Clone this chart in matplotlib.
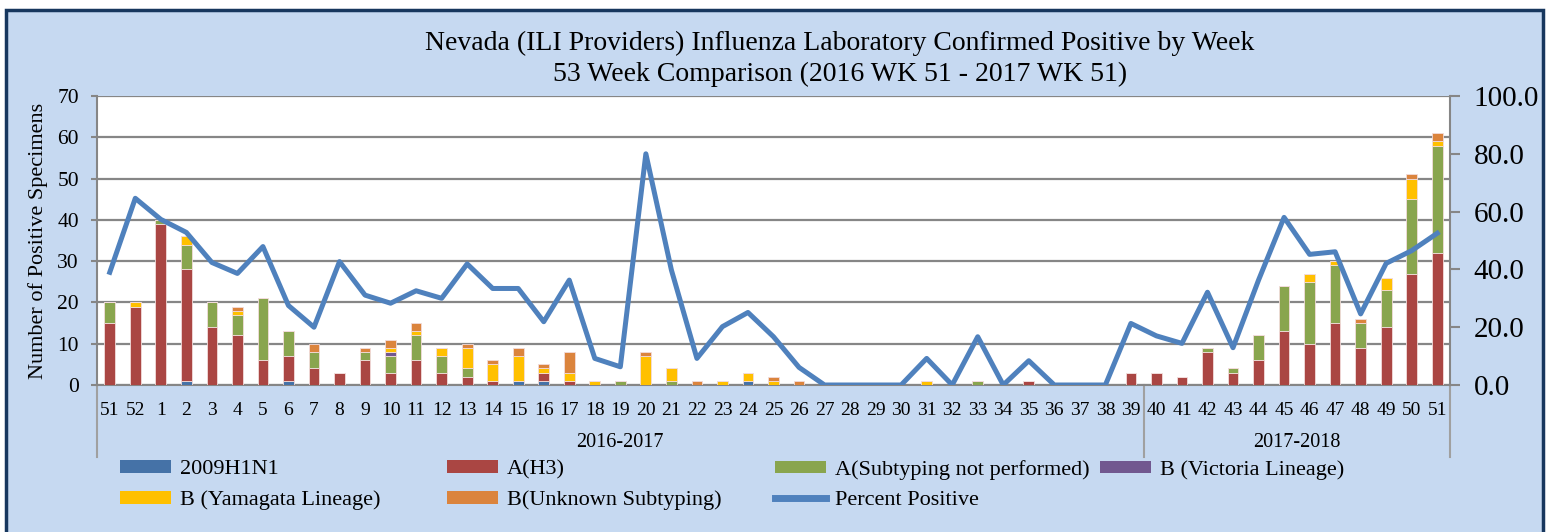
import numpy as np
import matplotlib
matplotlib.use("Agg")
import matplotlib.pyplot as plt
from matplotlib.patches import Rectangle
from matplotlib.lines import Line2D

# 주차 라벨 (2016 WK 51 - 2017 WK 51)
weeks = ["51", "52"] + [str(w) for w in range(1, 52)]

# 유형별 양성 검체 수 (첫 줄: 51주~26주, 둘째 줄: 27주~51주)
h1n1 = [0, 0, 0, 1, 0, 0, 0, 1, 0, 0, 0, 0, 0, 0, 0, 0, 1, 1, 0, 0, 0, 0, 0, 0, 0, 1, 0, 0,
        0, 0, 0, 0, 0, 0, 0, 0, 0, 0, 0, 0, 0, 0, 0, 0, 0, 0, 0, 0, 0, 0, 0, 0, 0]
h3 = [15, 19, 39, 27, 14, 12, 6, 6, 4, 3, 6, 3, 6, 3, 2, 1, 0, 2, 1, 0, 0, 0, 0, 0, 0, 0, 0, 0,
      0, 0, 0, 0, 0, 0, 0, 0, 1, 0, 0, 0, 3, 3, 2, 8, 3, 6, 13, 10, 15, 9, 14, 27, 32]
a_nosub = [5, 0, 1, 6, 6, 5, 15, 6, 4, 0, 2, 4, 6, 4, 2, 0, 0, 0, 0, 0, 1, 0, 1, 0, 0, 0, 0, 0,
           0, 0, 0, 0, 0, 0, 1, 0, 0, 0, 0, 0, 0, 0, 0, 1, 1, 6, 11, 15, 14, 6, 9, 18, 26]
b_vic = [0, 0, 0, 0, 0, 0, 0, 0, 0, 0, 0, 1, 0, 0, 0, 0, 0, 0, 0, 0, 0, 0, 0, 0, 0, 0, 0, 0,
         0, 0, 0, 0, 0, 0, 0, 0, 0, 0, 0, 0, 0, 0, 0, 0, 0, 0, 0, 0, 0, 0, 0, 0, 0]
b_yam = [0, 1, 0, 2, 0, 1, 0, 0, 0, 0, 0, 1, 1, 2, 5, 4, 6, 1, 2, 1, 0, 7, 3, 0, 1, 2, 1, 0,
         0, 0, 0, 0, 1, 0, 0, 0, 0, 0, 0, 0, 0, 0, 0, 0, 0, 0, 0, 2, 1, 0, 3, 5, 1]
b_unk = [0, 0, 0, 0, 0, 1, 0, 0, 2, 0, 1, 2, 2, 0, 1, 1, 2, 1, 5, 0, 0, 1, 0, 1, 0, 0, 1, 1,
         0, 0, 0, 0, 0, 0, 0, 0, 0, 0, 0, 0, 0, 0, 0, 0, 0, 0, 0, 0, 0, 1, 0, 1, 2]

# 양성률 (%)
pct_pos = [39.0, 64.6, 57.3, 52.8, 42.4, 38.6, 47.9, 27.5, 20.0, 42.7, 31.1, 28.3, 32.6,
           30.0, 41.9, 33.4, 33.4, 21.9, 36.3, 9.2, 6.3, 80.0, 39.8, 9.2, 20.2, 25.1,
           16.7, 6.1, 0, 0, 0, 0, 9.2, 0, 16.7, 0, 8.4, 0, 0, 0, 21.3, 17.0, 14.4, 32.1,
           12.9, 36.3, 58.0, 45.2, 46.1, 24.6, 42.1, 46.5, 52.5]

series = [
    ("2009H1N1", h1n1, "#4572A7"),
    ("A(H3)", h3, "#AA4643"),
    ("A(Subtyping not performed)", a_nosub, "#89A54E"),
    ("B (Victoria Lineage)", b_vic, "#71588F"),
    ("B (Yamagata Lineage)", b_yam, "#FFC000"),
    ("B(Unknown Subtyping)", b_unk, "#DB843D"),
]

plt.rcParams['font.family'] = ['Liberation Serif', 'DejaVu Serif']

W, H = 1551, 532
fig = plt.figure(figsize=(W / 100, H / 100), dpi=100, facecolor="white")
# 바깥 배경 박스
fig.patches.append(Rectangle((6 / W, -0.1), (1543 - 6) / W, 1.1 - 10 / H,
                             transform=fig.transFigure, facecolor="#C6D9F1",
                             edgecolor="#17375E", linewidth=2.5, zorder=-10))

ax = fig.add_axes([97 / W, 1 - 385 / H, (1450 - 97) / W, (385 - 96) / H])
ax.set_facecolor("white")
x = np.arange(len(weeks))
bottom = np.zeros(len(weeks))
handles = {}
for name, vals, col in series:
    vals = np.array(vals)
    ax.bar(x, vals, width=0.42, bottom=bottom, color=col,
           edgecolor="#F2DCDB", linewidth=0.6, zorder=3)
    handles[name] = Rectangle((0, 0), 1, 1, facecolor=col)
    bottom = bottom + vals

ax.set_xlim(-0.5, len(weeks) - 0.5)
ax.set_ylim(0, 70)
ax.set_yticks(range(0, 71, 10))
ax.grid(axis="y", color="#868686", linewidth=1.6, zorder=1)
ax.set_axisbelow(True)
ax.set_xticks(x)
ax.set_xticklabels(weeks, fontsize=14)
ax.tick_params(axis="x", length=0, pad=12)
ax.tick_params(axis="y", labelsize=15.5, length=4, color="#868686", width=1.5, pad=9)
for s in ("top", "right"):
    ax.spines[s].set_visible(False)
for s in ("left", "bottom"):
    ax.spines[s].set_color("#868686")
    ax.spines[s].set_linewidth(1.5)
ax.set_ylabel("Number of Positive Specimens", fontsize=16)
ax.yaxis.set_label_coords(-0.036, 0.5)

# 시즌 구분선 및 라벨
tr = ax.get_xaxis_transform()
for xs in (-0.5, 40.5, len(weeks) - 0.5):
    ax.plot([xs, xs], [0, -0.25], transform=tr, color="#A0A0A0",
            linewidth=1.5, clip_on=False)
ax.text(20, -0.2, "2016-2017", transform=tr, ha="center", va="center", fontsize=14.5)
ax.text(46.5, -0.2, "2017-2018", transform=tr, ha="center", va="center", fontsize=14.5)

# 양성률 선 (보조축)
ax2 = ax.twinx()
ax2.plot(x, pct_pos, color="#4F81BD", linewidth=3.6, zorder=5)
ax2.set_ylim(0, 100)
ax2.set_yticks(range(0, 101, 20))
ax2.set_yticklabels([f"{v:.1f}" for v in range(0, 101, 20)])
ax2.tick_params(axis="y", labelsize=21, length=7, color="#868686", width=1.5, pad=10)
for s in ("top", "left", "bottom"):
    ax2.spines[s].set_visible(False)
ax2.spines["right"].set_color("#868686")
ax2.spines["right"].set_linewidth(1.5)
handles["Percent Positive"] = Line2D([0], [0], color="#4F81BD", linewidth=5)

fig.text(840 / W, 1 - 43 / H, "Nevada (ILI Providers) Influenza Laboratory Confirmed Positive by Week",
         ha="center", va="center", fontsize=20)
fig.text(840 / W, 1 - 74 / H, "53 Week Comparison (2016 WK 51 - 2017 WK 51)",
         ha="center", va="center", fontsize=20)

# 범례: 열마다 따로 배치
columns = [
    (120, ["2009H1N1", "B (Yamagata Lineage)"]),
    (447, ["A(H3)", "B(Unknown Subtyping)"]),
    (775, ["A(Subtyping not performed)", "Percent Positive"]),
    (1100, ["B (Victoria Lineage)"]),
]
for xpos, names in columns:
    fig.legend([handles[n] for n in names], names, loc="upper left",
               bbox_to_anchor=(xpos / W, 1 - 460 / H), frameon=False,
               fontsize=16, handlelength=2.3, handleheight=0.5,
               handletextpad=0.4, labelspacing=0.5, borderpad=0,
               borderaxespad=0)

fig.savefig("out.png", dpi=100, facecolor="white")
